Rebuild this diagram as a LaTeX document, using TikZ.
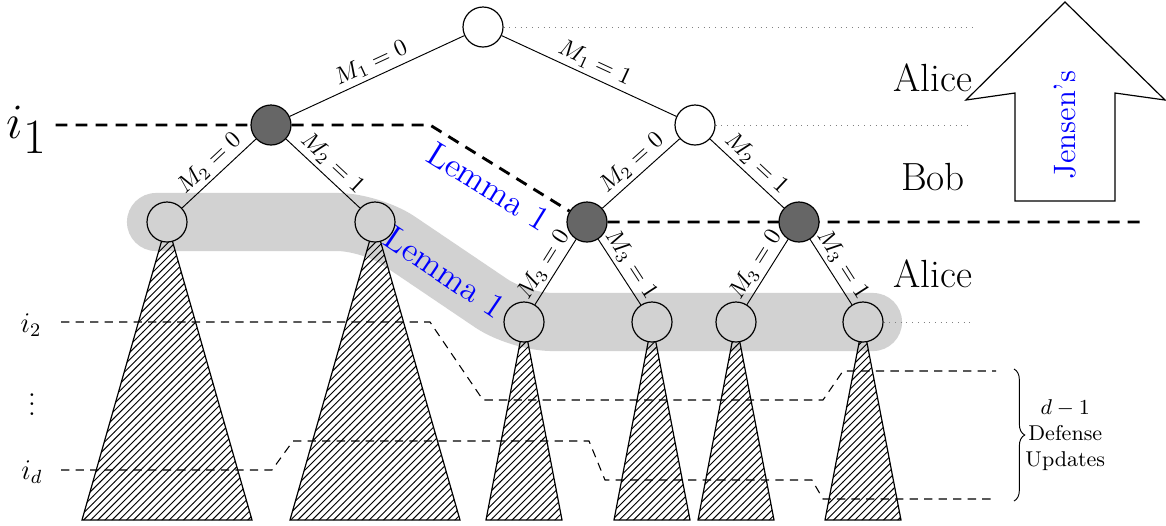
\documentclass[tikz,border=0pt]{standalone}
\usetikzlibrary{patterns, decorations.pathreplacing, backgrounds}

\begin{document}
\begin{tikzpicture}[
    x=0.42pt, y=-0.42pt,
    vertex/.style={%
      draw,
      circle,
      minimum size=16.8pt,
      inner sep=0pt,
      line width=0.5pt,
    },
    open/.style={vertex, fill=white},
    dark/.style={vertex, fill=black!60},
    leaf/.style={vertex, fill=gray!35},
    edgelabel/.style={above, sloped, inner sep=1.5pt},
    subtree/.style={draw, line width=0.5pt, pattern=north east lines},
    band/.style={draw=gray!35, line width=24.4pt, line cap=round, rounded corners=14pt},
    cut/.style={line width=1.2pt, dash pattern=on 5pt off 3.4pt},
    level/.style={line width=0.45pt, dash pattern=on 3.5pt off 2.6pt},
    guide/.style={dotted, gray},
    player/.style={font=\fontsize{16.5}{20}\selectfont},
    lemma/.style={text=blue, font=\Large},
  ]

    \useasboundingbox (0,0) rectangle (1166,525);

    \node [open] (root) at (483,27) {};
    \path (root) ++(-212,98) node [dark] (a) {};
    \path (root) ++(212,98) node [open] (b) {};
    \path (a) ++(-104,97) node [leaf] (aa) {};
    \path (a) ++(104,97) node [leaf] (ab) {};
    \path (b) ++(-108,97) node [dark] (ba) {};
    \path (b) ++(104,97) node [dark] (bb) {};
    \path (ba) ++(-63,100) node [leaf] (baa) {};
    \path (ba) ++(65,100) node [leaf] (bab) {};
    \path (bb) ++(-63,100) node [leaf] (bba) {};
    \path (bb) ++(64,100) node [leaf] (bbb) {};

    \node (i1) at (27,130) {\fontsize{22}{26}\selectfont $i_{\textstyle 1}$};
    \node (i2) at (31,325) {\large $i_2$};
    \node (dots) at (32,397) {\large $\vdots$};
    \node (id) at (32,472) {\large $i_d$};

    \node [player] (alice1) at (933,78) {Alice};
    \node [player] (bob) at (933,177) {Bob};
    \node [player] (alice2) at (933,274) {Alice};

    \begin{scope}[on background layer]
      \draw [band] (156,222) -- (371,222) -- (519,322) node [midway, sloped, lemma] {Lemma 1} -- (873,322);

      \draw [subtree] (aa.center) -- ++(-85,298) -- ++(170,0) -- cycle;
      \draw [subtree] (ab.center) -- ++(-85,298) -- ++(170,0) -- cycle;
      \draw [subtree] (baa.center) -- ++(-38,198) -- ++(76,0) -- cycle;
      \draw [subtree] (bab.center) -- ++(-38,198) -- ++(76,0) -- cycle;
      \draw [subtree] (bba.center) -- ++(-38,198) -- ++(76,0) -- cycle;
      \draw [subtree] (bbb.center) -- ++(-38,198) -- ++(76,0) -- cycle;

      \draw [level] (61,322) -- (430,322) -- (483,400) -- (823,400) -- (843,371) -- (996,371);
      \draw [level] (61,470) -- (272,470) -- (293,441) -- (589,441) -- (605,480) -- (812,480) -- (823,499) -- (996,499);

      \draw [cut] (i1.east |- a) -- (a) -- (430,125) -- (ba) node [midway, below, sloped, lemma] {Lemma 1} -- (1146,222);
    \end{scope}

    \draw (root) -- (a) node [edgelabel, midway] {$M_1 = 0$};
    \draw (root) -- (b) node [edgelabel, midway] {$M_1 = 1$};
    \draw (a) -- (aa) node [edgelabel, midway] {$M_2 = 0$};
    \draw (a) -- (ab) node [edgelabel, midway] {$M_2 = 1$};
    \draw (b) -- (ba) node [edgelabel, midway] {$M_2 = 0$};
    \draw (b) -- (bb) node [edgelabel, midway] {$M_2 = 1$};
    \draw (ba) -- (baa) node [edgelabel, midway] {$M_3 = 0$};
    \draw (ba) -- (bab) node [edgelabel, midway] {$M_3 = 1$};
    \draw (bb) -- (bba) node [edgelabel, midway] {$M_3 = 0$};
    \draw (bb) -- (bbb) node [edgelabel, midway] {$M_3 = 1$};

    \draw [guide] (root.east) -- ++(470,0);
    \draw [guide] (b.east) -- ++(255,0);
    \draw [guide] (bbb.east) -- ++(87,0);

    \draw [line width=0.5pt] (1065,2) -- (1165,100) -- (1115,93) -- (1115,201) -- (1015,201) -- (1015,93) -- (966,100) -- cycle;
    \node [rotate=90, text=blue, font=\fontsize{13}{16}\selectfont] (jensen) at (1065,125) {Jensen's};

    \draw [decorate, decoration={brace, amplitude=4.5pt}] (1014,369) -- (1014,501);
    \node [anchor=west, align=center, font=\small, inner sep=0pt] (updates) at (1025,435) {$d-1$\\Defense\\Updates};
\end{tikzpicture}
\end{document}
